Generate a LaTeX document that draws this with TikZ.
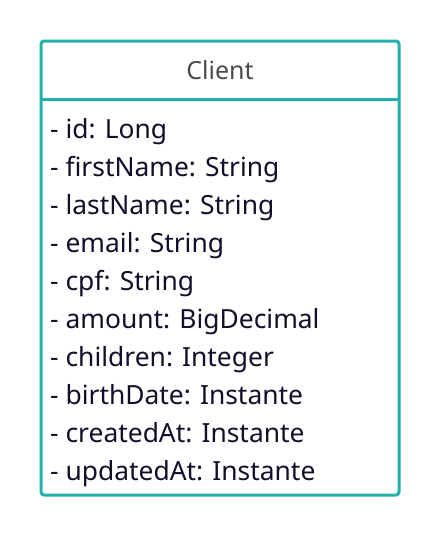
\documentclass[tikz,border=0pt]{standalone}
\usepackage{fontspec}
\setmainfont{Noto Sans}
\definecolor{teal1}{HTML}{22B0AA}
\definecolor{ttl}{HTML}{4A4A4A}
\definecolor{txt}{HTML}{10102A}
\begin{document}
\begin{tikzpicture}[x=1pt,y=-1pt,
  attr/.style={anchor=base west,inner sep=0pt,font=\fontsize{26.4}{30}\selectfont,text=txt},
  frame/.style={draw=teal1,line width=3pt,rounded corners=3pt}]
\useasboundingbox (0,0) rectangle (440,538);
\draw[frame] (41,41) rectangle (399,495);
\draw[draw=teal1,line width=3pt] (41,99) -- (399,99);
\node[anchor=base,inner sep=0pt,font=\fontsize{25}{28}\selectfont,text=ttl] (title) at (220,79) {Client};
\node[attr] (a1) at (50,138) {- id: Long};
\node[attr] (a2) at (50,176) {- firstName: String};
\node[attr] (a3) at (50,214) {- lastName: String};
\node[attr] (a4) at (50,252) {- email: String};
\node[attr] (a5) at (50,290) {- cpf: String};
\node[attr] (a6) at (50,328) {- amount: BigDecimal};
\node[attr] (a7) at (50,366) {- children: Integer};
\node[attr] (a8) at (50,404) {- birthDate: Instante};
\node[attr] (a9) at (50,442) {- createdAt: Instante};
\node[attr] (a10) at (50,480) {- updatedAt: Instante};
\end{tikzpicture}
\end{document}
